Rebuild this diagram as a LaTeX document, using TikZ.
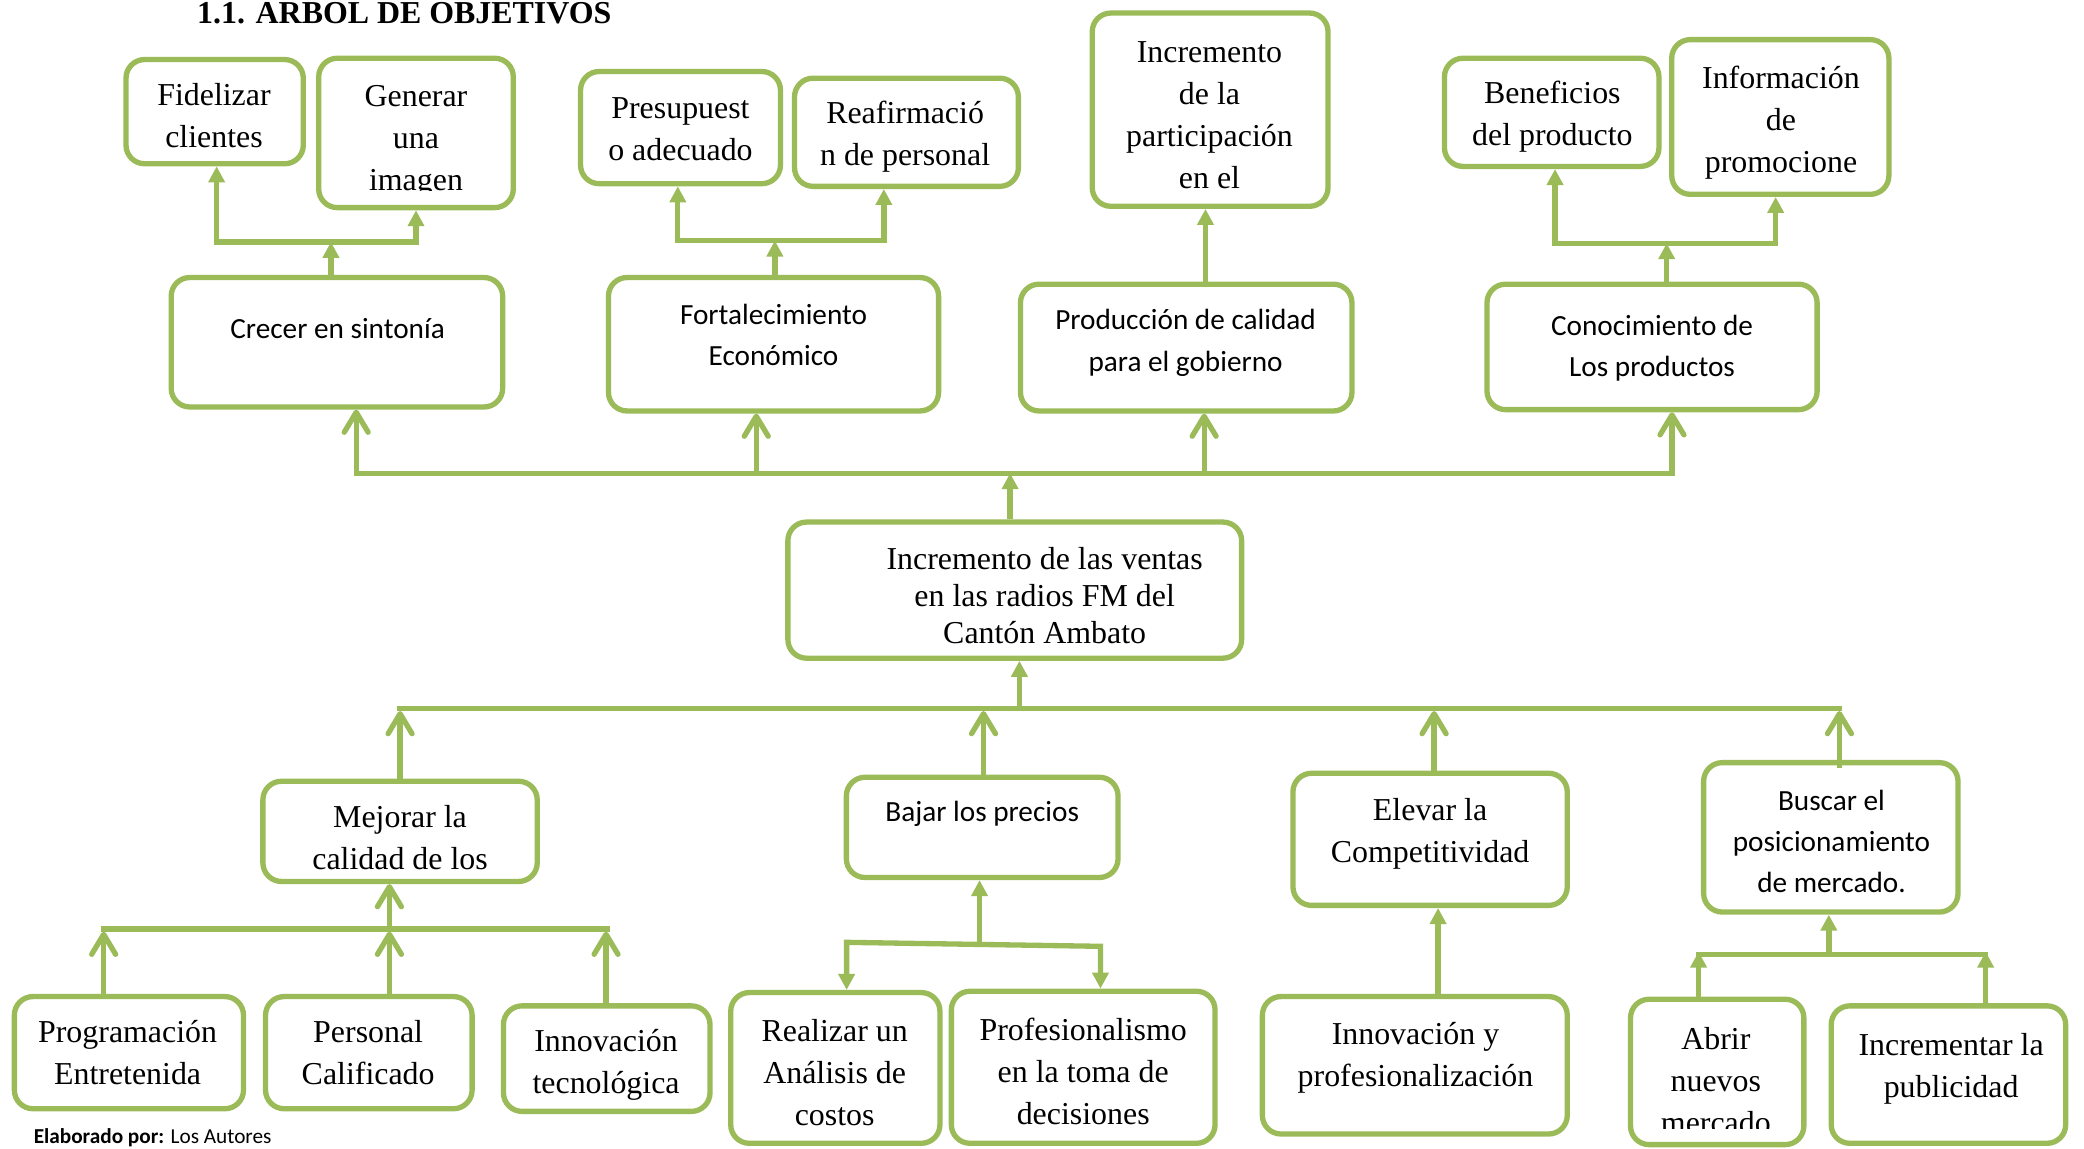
\documentclass[tikz,border=0pt]{standalone}
\usepackage{fontspec}
\setmainfont{Liberation Serif}
\newfontfamily\calibri{Carlito}
\usetikzlibrary{arrows.meta,fit}
\definecolor{leaf}{HTML}{9BBB59}

% rounded objective box spanning two corner points
\newcommand\objbox[3]{\node[box, fit={(#2) (#3)}] (#1) {};}

\begin{document}
\begin{tikzpicture}[x=0.5pt,y=-0.5pt,
  box/.style={draw=leaf, line width=2pt, rounded corners=7pt, inner sep=-0.9pt},
  serif/.style={font=\fontsize{12}{15.8}\selectfont, align=center, inner sep=0pt},
  serifc/.style={font=\fontsize{12}{14}\selectfont, align=center, inner sep=0pt},
  sans/.style={font=\calibri\fontsize{11}{15.5}\selectfont, align=center, inner sep=0pt},
  bar/.style={draw=leaf, line width=2pt, line cap=rect},
  tri/.style={draw=leaf, line width=2pt, -{Triangle[width=6pt,length=6pt]}},
  tritwo/.style={draw=leaf, line width=2pt, {Triangle[width=6pt,length=6pt]}-{Triangle[width=6pt,length=6pt]}},
  barb/.style={draw=leaf, line width=2pt, -{Straight Barb[width=9pt,length=7.5pt,round]}},
  barbtwo/.style={draw=leaf, line width=2pt, {Straight Barb[width=9pt,length=7.5pt,round]}-{Straight Barb[width=9pt,length=7.5pt,round]}},
]
\useasboundingbox (0,0) rectangle (1568,864);

% ---------- title ----------
\node[anchor=base west, inner sep=0pt, font=\bfseries\fontsize{12}{14}\selectfont] (title) at (148,18) {1.1. ARBOL DE OBJETIVOS};

% ---------- upper ends ----------
\objbox{fid}{93,43}{230,125}
\objbox{gen}{238,42}{388,158}
\objbox{pre}{435,52}{589,140}
\objbox{rea}{596,57}{768,142}
\objbox{inc}{820,8}{1001,157}
\objbox{ben}{1085,42}{1250,127}
\objbox{inf}{1256,28}{1423,148}

\node[serif] (fid-t) at (161,87) {Fidelizar\\clientes};
\begin{scope}
  \clip (238,42) rectangle (388,143);
  \node[serif] (gen-t) at (313,106) {Generar\\una\\imagen};
\end{scope}
\node[serif] (pre-t) at (512,97) {Presupuest\\o adecuado};
\node[serif] (rea-t) at (681,103) {Reafirmació\\n de personal};
\node[serif] (inc-t) at (910,87) {Incremento\\de la\\participación\\en el};
\node[serif] (ben-t) at (1168,88) {Beneficios\\del producto};
\node[serif] (inf-t) at (1340,92) {Información\\de\\promocione};

% ---------- direct ends ----------
\objbox{crecer}{127,207}{380,308}
\objbox{fort}{456,207}{708,311}
\objbox{prod}{766,212}{1019,311}
\objbox{cono}{1117,212}{1369,310}

\node[sans] (crecer-t) at (254,247) {Crecer en sintonía};
\node[sans] (fort-t) at (582,252) {Fortalecimiento\\Económico};
\node[sans] (prod-t) at (892,258) {Producción de calidad\\para el gobierno};
\node[sans] (cono-t) at (1243,262) {Conocimiento de\\Los productos};

% ---------- central objective ----------
\objbox{ventas}{591,391}{936,497}
\node[serifc] (ventas-t) at (786,448) {Incremento de las ventas\\en las radios FM del\\Cantón Ambato};

% ---------- direct means ----------
\objbox{mej}{196,586}{406,665}
\objbox{baj}{635,583}{843,662}
\objbox{ele}{971,580}{1181,683}
\objbox{bus}{1280,572}{1475,688}

\node[serif] (mej-t) at (301,630) {Mejorar la\\calidad de los};
\node[sans] (baj-t) at (739,612) {Bajar los precios};
\node[serif] (ele-t) at (1076,627) {Elevar la\\Competitividad};
\node[sans] (bus-t) at (1378,633) {Buscar el\\posicionamiento\\de mercado.};

% ---------- lower means ----------
\objbox{prog}{9,748}{185,836}
\objbox{pers}{198,748}{357,836}
\objbox{innt}{377,755}{536,838}
\objbox{real}{548,745}{709,862}
\objbox{prof}{714,744}{916,862}
\objbox{innp}{948,748}{1181,855}
\objbox{abr}{1225,750}{1359,863}
\objbox{incp}{1376,755}{1556,862}

\node[serif] (prog-t) at (96,792) {Programación\\Entretenida};
\node[serif] (pers-t) at (277,792) {Personal\\Calificado};
\node[serif] (innt-t) at (456,801) {Innovación\\tecnológica};
\node[serif] (real-t) at (628,807) {Realizar un\\Análisis de\\costos};
\node[serif] (prof-t) at (815,806) {Profesionalismo\\en la toma de\\decisiones};
\node[serif] (innp-t) at (1065,796) {Innovación y\\profesionalización};
\begin{scope}
  \clip (1225,750) rectangle (1359,849);
  \node[serif] (abr-t) at (1291,813) {Abrir\\nuevos\\mercado};
\end{scope}
\node[serif] (incp-t) at (1468,804) {Incrementar la\\publicidad};

\node[anchor=west, inner sep=0pt, font=\calibri\fontsize{8}{10}\selectfont] (credit) at (25,856) {\textbf{Elaborado por:} Los Autores};

% ---------- upper connectors ----------
\coordinate (g1) at (249,182); \coordinate (g1l) at (163,182); \coordinate (g1r) at (313,182);
\draw[tritwo] (g1l |- fid.south) -- (g1l) -- (g1r) -- (g1r |- gen.south);
\draw[tri] (g1 |- crecer.north) -- (g1);

\coordinate (g2) at (583,181); \coordinate (g2l) at (510,181); \coordinate (g2r) at (665,181);
\draw[tritwo] (g2l |- pre.south) -- (g2l) -- (g2r) -- (g2r |- rea.south);
\draw[tri] (g2 |- fort.north) -- (g2);

\coordinate (g3) at (907,0);
\draw[tri] (g3 |- prod.north) -- (g3 |- inc.south);

\coordinate (g4) at (1254,183); \coordinate (g4l) at (1170,183); \coordinate (g4r) at (1336,183);
\draw[tritwo] (g4l |- ben.south) -- (g4l) -- (g4r) -- (g4r |- inf.south);
\draw[tri] (g4 |- cono.north) -- (g4);

% ---------- central connectors ----------
\coordinate (t1) at (268,356); \coordinate (t2) at (569,356);
\coordinate (t3) at (906,356); \coordinate (t4) at (1258,356);
\coordinate (tc) at (760,356);
\draw[barbtwo] (t1 |- crecer.south) -- (t1) -- (t4) -- (t4 |- cono.south);
\draw[barb] (t2) -- (t2 |- fort.south);
\draw[barb] (t3) -- (t3 |- prod.south);
\draw[tri] (tc |- ventas.north) -- (tc);

\coordinate (b1) at (301,535); \coordinate (b2) at (740,535);
\coordinate (b3) at (1079,535); \coordinate (b4) at (1384,535);
\coordinate (bc) at (767,533);
\draw[bar] (301,533) -- (1384,533);
\draw[tri] (bc) -- (bc |- ventas.south);
\draw[barb] (b1 |- mej.north) -- (b1);
\draw[barb] (b2 |- baj.north) -- (b2);
\draw[barb] (b3 |- ele.north) -- (b3);
\draw[barb] (1384,578) -- (b4);

% ---------- lower connectors ----------
\coordinate (m1) at (78,701); \coordinate (m2) at (293,701); \coordinate (m3) at (456,701);
\draw[bar] (78,699) -- (457,699);
\draw[barb] (m1 |- prog.north) -- (m1);
\draw[barb] (m2 |- pers.north) -- (m2);
\draw[barb] (m3 |- innt.north) -- (m3);
\draw[barb] (293,699) -- (293,699 |- mej.south);

\coordinate (n1) at (637,709); \coordinate (n2) at (828,712); \coordinate (nc) at (737,710.5);
\draw[tritwo] (n1 |- real.north) -- (n1) -- (n2) -- (n2 |- prof.north);
\draw[tri] (nc) -- (nc |- baj.south);

\coordinate (e1) at (1082,0);
\draw[tri] (e1 |- innp.north) -- (e1 |- ele.south);

\coordinate (p1) at (1278,716); \coordinate (p2) at (1494,716); \coordinate (pc) at (1376,718);
\draw[bar] (1278,718) -- (1494,718);
\draw[tri] (p1 |- abr.north) -- (p1);
\draw[tri] (p2 |- incp.north) -- (p2);
\draw[tri] (pc) -- (pc |- bus.south);

\end{tikzpicture}
\end{document}
